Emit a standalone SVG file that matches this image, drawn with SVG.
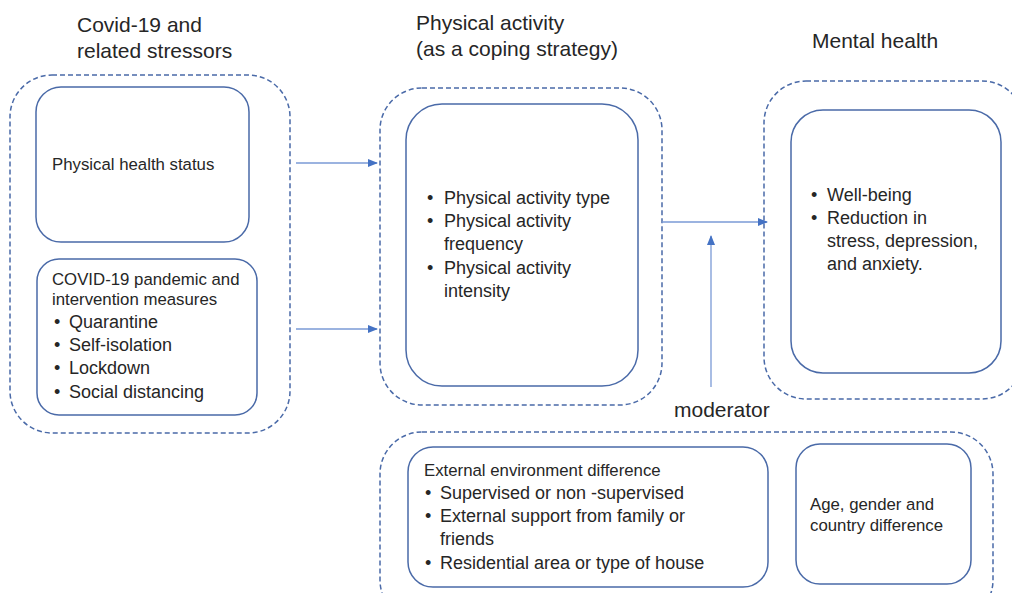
<svg xmlns="http://www.w3.org/2000/svg" width="1012" height="593" viewBox="0 0 1012 593">
<style>
.dash{fill:none;stroke:#4a6aa8;stroke-width:1.5;stroke-dasharray:5 3}
.box{fill:#fff;stroke:#4a6aa8;stroke-width:1.5}
text{font-family:"Liberation Sans",Arial,sans-serif;fill:#262626}
.t{font-size:21px}
.s{font-size:16.8px}
.m{font-size:18px}
.arr{stroke:#7a9ad6;stroke-width:1.3;fill:none}
</style>
<defs>
<marker id="ah" markerWidth="10" markerHeight="8" refX="9" refY="4" orient="auto" markerUnits="userSpaceOnUse">
<path d="M0,0 L10,4 L0,8 z" fill="#4472c4"/>
</marker>
</defs>
<rect width="1012" height="593" fill="#fff"/>
<g id="titles">
<text class="t" x="77" y="32">Covid-19 and</text>
<text class="t" x="77" y="58">related stressors</text>
<text class="t" x="416" y="30">Physical activity</text>
<text class="t" x="416" y="56">(as a coping strategy)</text>
<text class="t" x="812" y="48">Mental health</text>
</g>
<g id="stressors">
<rect class="dash" x="10" y="75" width="280" height="358" rx="42"/>
<g id="physical-health">
<rect class="box" x="36" y="87" width="213" height="155" rx="25"/>
<text class="s" x="52" y="170">Physical health status</text>
</g>
<g id="covid-measures">
<rect class="box" x="37" y="259" width="220" height="156" rx="22"/>
<text class="s" x="52" y="285">COVID-19 pandemic and</text>
<text class="s" x="52" y="305">intervention measures</text>
<text class="m" x="54" y="328">•</text><text class="m" x="69" y="328">Quarantine</text>
<text class="m" x="54" y="351">•</text><text class="m" x="69" y="351">Self-isolation</text>
<text class="m" x="54" y="374">•</text><text class="m" x="69" y="374">Lockdown</text>
<text class="m" x="54" y="398">•</text><text class="m" x="69" y="398">Social distancing</text>
</g>
</g>
<g id="physical-activity">
<rect class="dash" x="380" y="88" width="282" height="317" rx="42"/>
<rect class="box" x="406" y="104" width="232" height="282" rx="36"/>
<text class="m" x="427" y="204">•</text><text class="m" x="444" y="204">Physical activity type</text>
<text class="m" x="427" y="227">•</text><text class="m" x="444" y="227">Physical activity</text>
<text class="m" x="444" y="250">frequency</text>
<text class="m" x="427" y="274">•</text><text class="m" x="444" y="274">Physical activity</text>
<text class="m" x="444" y="297">intensity</text>
</g>
<g id="mental-health">
<rect class="dash" x="764" y="81" width="260" height="318" rx="42"/>
<rect class="box" x="791" y="110" width="210" height="263" rx="32"/>
<text class="m" x="811" y="201">•</text><text class="m" x="827" y="201">Well-being</text>
<text class="m" x="811" y="224">•</text><text class="m" x="827" y="224">Reduction in</text>
<text class="m" x="827" y="247">stress, depression,</text>
<text class="m" x="827" y="270">and anxiety.</text>
</g>
<g id="moderators">
<rect class="dash" x="380" y="432" width="613" height="190" rx="42"/>
<g id="external-environment">
<rect class="box" x="408" y="447" width="360" height="140" rx="25"/>
<text class="s" x="424" y="476">External environment difference</text>
<text class="m" x="425" y="499">•</text><text class="m" x="440" y="499">Supervised or non -supervised</text>
<text class="m" x="425" y="522">•</text><text class="m" x="440" y="522">External support from family or</text>
<text class="m" x="440" y="545">friends</text>
<text class="m" x="425" y="569">•</text><text class="m" x="440" y="569">Residential area or type of house</text>
</g>
<g id="demographics">
<rect class="box" x="796" y="444" width="175" height="140" rx="24"/>
<text class="s" x="810" y="510">Age, gender and</text>
<text class="s" x="810" y="531">country difference</text>
</g>
</g>
<g id="connectors">
<line class="arr" x1="296" y1="163" x2="377" y2="163" marker-end="url(#ah)"/>
<line class="arr" x1="296" y1="329" x2="377" y2="329" marker-end="url(#ah)"/>
<line class="arr" x1="662" y1="222" x2="767" y2="222" marker-end="url(#ah)"/>
<line class="arr" x1="711" y1="387" x2="711" y2="236" marker-end="url(#ah)"/>
<text class="t" x="674" y="417">moderator</text>
</g>
</svg>
